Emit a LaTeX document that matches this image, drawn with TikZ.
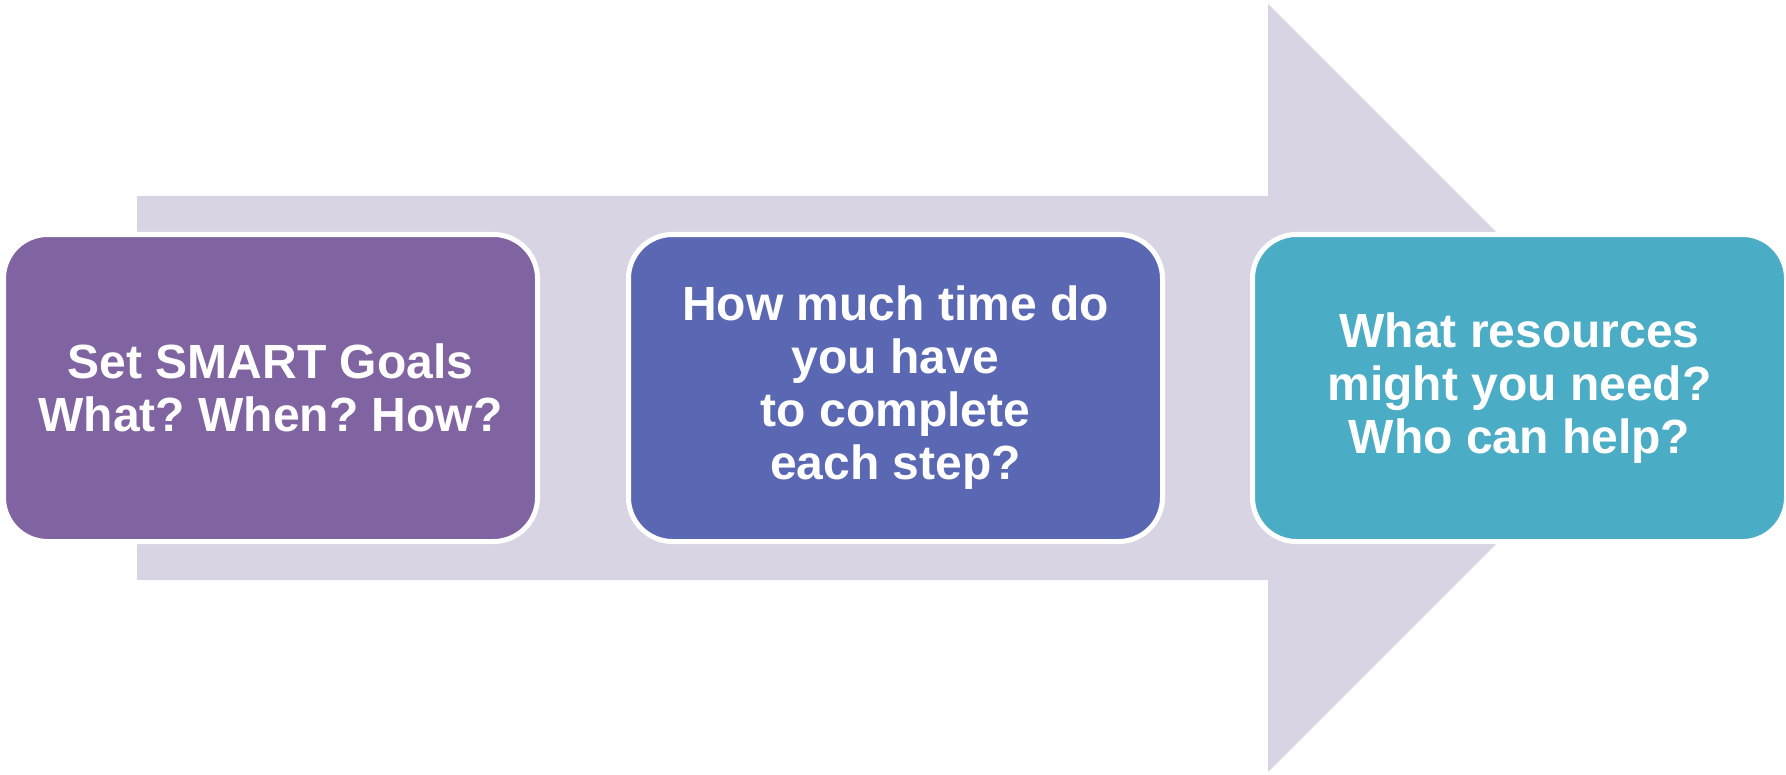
\documentclass[tikz,border=0pt]{standalone}
\usepackage{fontspec}
\setmainfont{Liberation Sans}
\frenchspacing
\definecolor{arrowgray}{HTML}{D8D4E3}
\definecolor{goalpurple}{HTML}{8064A2}
\definecolor{timeblue}{HTML}{5A68B4}
\definecolor{helpaqua}{HTML}{4BACC6}
\tikzset{
  phase/.style={draw=white, line width=2.5pt, rounded corners=22pt,
    minimum width=267pt, minimum height=153.5pt, align=center,
    text=white, font=\bfseries\fontsize{24}{26.5}\selectfont}
}

\begin{document}
\begin{tikzpicture}[x=0.5pt,y=-0.5pt]
\useasboundingbox (0,0) rectangle (1786,775);
% big background arrow
\fill[arrowgray] (137,196) -- (1268,196) -- (1268,4) -- (1652,388)
  -- (1268,772) -- (1268,580) -- (137,580) -- cycle;
\node[phase, fill=goalpurple] (goals) at (270.5,388) {Set SMART Goals\\What? When? How?};
\node[phase, fill=timeblue] (time) at (895.5,388) {How much time do\\you have\\to complete\\each step?};
\node[phase, fill=helpaqua] (resources) at (1519.5,388) {What resources\\might you need?\\Who can help?};
\end{tikzpicture}
\end{document}
